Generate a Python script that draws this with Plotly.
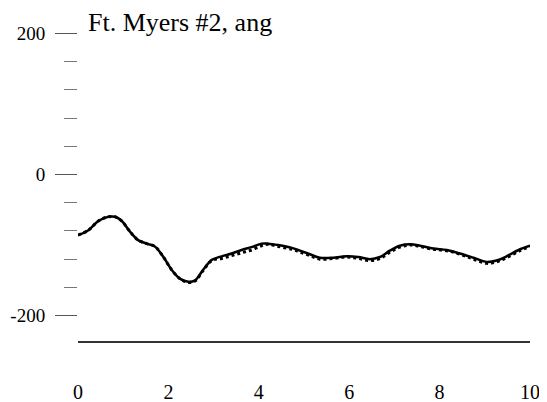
import plotly.graph_objects as go

title_text = "Ft. Myers #2, ang"

t_solid = [0.0, 0.23, 0.45, 0.67, 0.82, 0.97, 1.15, 1.33, 1.52, 1.70, 1.89, 2.07, 2.26, 2.44, 2.59,
           2.77, 2.96, 3.18, 3.40, 3.62, 3.84, 4.06, 4.21, 4.43, 4.73, 4.91, 5.13, 5.35, 5.65,
           5.94, 6.20, 6.46, 6.68, 6.90, 7.12, 7.35, 7.57, 7.86, 8.16, 8.45, 8.75, 9.04, 9.26,
           9.48, 9.78, 10.0]
v_solid = [-86, -79, -66, -60, -60, -66, -81, -93, -98, -102, -117, -135, -148, -152, -150,
           -135, -121, -116, -112, -107, -103, -98, -98, -100, -104, -108, -113, -118, -118,
           -116, -117, -120, -117, -108, -101, -99, -101, -105, -107, -112, -118, -124, -122,
           -116, -106, -101]
v_dotted = [-86, -79, -66, -60, -60, -66, -81, -93, -98, -102, -117, -135, -148, -153, -151,
            -136, -122, -119, -115, -111, -107, -101, -99, -102, -106, -110, -115, -120, -119,
            -117, -119, -122, -119, -110, -103, -100, -102, -106, -108, -113, -120, -126, -124,
            -118, -108, -102]

x_ticks = [0, 2, 4, 6, 8, 10]
y_ticks = [200, 0, -200]
y_minor = [160, 120, 80, 40, -40, -80, -120, -160]

# page body has an 8px margin; figure size/margins compensate for it
W, H = 539, 394

fig = go.Figure()
fig.add_trace(go.Scatter(x=t_solid, y=v_solid, mode="lines", line=dict(color="black", width=2.5, shape="spline"),
                         showlegend=False, cliponaxis=False))
fig.add_trace(go.Scatter(x=t_solid, y=v_dotted, mode="lines", line=dict(color="black", width=3, dash="dot", shape="spline"),
                         showlegend=False, cliponaxis=False))

fig.update_layout(
    width=W, height=H,
    margin=dict(l=70, r=17, t=25, b=61, autoexpand=False),
    paper_bgcolor="white", plot_bgcolor="white",
    font=dict(family="Liberation Serif, Times New Roman, serif", color="black", size=19),
    title=dict(text=title_text, x=80/W, xanchor="left", xref="container",
               y=1 - 5/H, yanchor="top", yref="container", pad=dict(t=0, b=0, l=0, r=0),
               font=dict(size=26, family="Liberation Serif, Times New Roman, serif", color="black")),
    xaxis=dict(range=[0, 10], tickvals=x_ticks, ticktext=[str(v) for v in x_ticks],
               showgrid=False, zeroline=False, showline=True, linecolor="#333", linewidth=1.5,
               ticks="", ticklabelstandoff=32, tickfont=dict(size=20), automargin=False),
    yaxis=dict(range=[-236, 200.5], tickvals=y_ticks, ticktext=[str(v) for v in y_ticks],
               showgrid=False, zeroline=False, showline=False, automargin=False,
               ticks="outside", ticklen=22, tickcolor="#555", tickwidth=1.2,
               ticklabelstandoff=6, tickfont=dict(size=19),
               minor=dict(tickvals=y_minor, ticks="outside",
                          ticklen=13, tickcolor="#777", tickwidth=1)),
)

fig.write_html("out.html")
